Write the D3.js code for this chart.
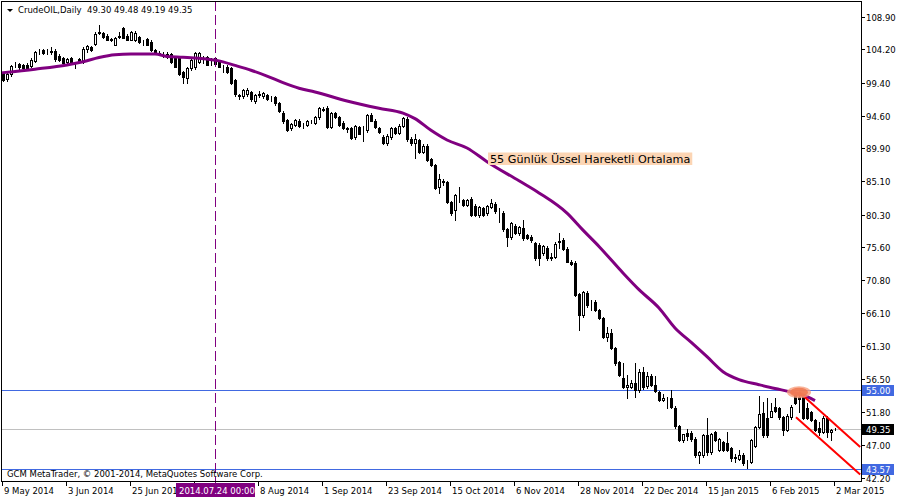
<!DOCTYPE html>
<html><head><meta charset="utf-8">
<script src="https://cdn.jsdelivr.net/npm/d3@7"></script>
<style>
body{margin:0;background:#fff}
svg{display:block}
text{font-family:"DejaVu Sans",sans-serif;font-size:8.5px;fill:#000;white-space:pre}
</style>
</head><body><svg id="c" width="900" height="500"></svg>
<script>
// ---- DATA ----
const open = [
100.8, 99.9, 100.6, 101.9, 102.1, 101.9, 102.0, 101.8, 102.6, 103.8,
104.1, 103.8, 103.9, 104.0, 103.3, 102.9, 102.4, 102.9, 102.3, 102.8,
102.4, 104.2, 104.5, 105.0, 106.6, 106.6, 106.2, 105.7, 104.9, 106.0,
107.3, 106.2, 105.6, 105.6, 106.0, 105.3, 105.7, 105.3, 104.1, 103.7,
103.6, 103.6, 103.5, 103.0, 102.9, 100.9, 100.1, 101.5, 101.6, 102.4,
103.0, 103.1, 102.6, 103.0, 102.4, 101.7, 101.7, 101.5, 99.8, 97.6,
97.4, 97.7, 98.0, 96.7, 97.6, 97.4, 97.6, 97.1, 97.3, 96.4,
95.0, 94.0, 92.8, 93.3, 93.9, 93.3, 93.3, 93.8, 93.6, 94.4,
95.6, 95.7, 93.0, 95.0, 94.4, 93.6, 92.8, 92.8, 91.5, 93.0,
92.2, 92.5, 94.7, 93.9, 92.8, 91.5, 90.6, 91.5, 92.8, 92.1,
93.2, 94.2, 91.3, 90.6, 91.1, 89.4, 90.3, 88.3, 87.5, 84.3,
85.1, 85.0, 82.1, 81.0, 82.6, 82.4, 81.7, 82.5, 81.6, 80.3,
81.2, 80.6, 81.4, 81.9, 80.9, 80.5, 78.2, 77.1, 78.7, 77.7,
78.4, 77.3, 77.0, 76.2, 75.9, 74.8, 75.5, 74.1, 74.2, 76.5,
76.6, 75.4, 73.5, 73.3, 68.8, 65.8, 69.0, 67.3, 67.7, 66.5,
65.3, 62.6, 63.2, 61.0, 59.0, 56.7, 55.4, 55.4, 55.9, 54.9,
57.5, 55.5, 56.9, 55.7, 54.6, 53.5, 53.7, 53.8, 52.4, 49.7,
47.7, 48.7, 48.7, 47.9, 45.5, 45.6, 48.4, 46.0, 48.8, 46.3,
47.4, 47.3, 46.5, 45.2, 45.0, 45.6, 44.4, 44.5, 46.9, 49.6,
51.6, 50.9, 51.0, 52.5, 52.3, 51.0, 49.2, 51.0, 54.2, 53.9,
54.2, 52.3, 51.7, 50.6, 49.4, 48.9, 50.9, 48.9, 49.30
];
const high = [
101.0, 100.9, 102.0, 102.4, 102.3, 102.1, 102.3, 102.9, 104.0, 104.2,
104.3, 104.3, 104.5, 104.2, 103.6, 103.1, 103.0, 103.1, 102.4, 103.0,
104.5, 104.9, 104.7, 106.8, 107.7, 106.8, 106.4, 105.9, 106.0, 106.7,
107.5, 106.4, 106.9, 106.9, 106.2, 105.6, 105.9, 105.5, 104.3, 104.0,
103.8, 103.8, 103.7, 103.2, 103.1, 101.1, 101.6, 102.9, 103.9, 103.9,
103.2, 103.3, 102.9, 103.1, 102.6, 102.0, 101.9, 101.7, 100.0, 97.8,
98.5, 98.6, 98.2, 97.8, 98.2, 98.0, 97.8, 97.4, 97.5, 96.6,
95.3, 94.2, 93.6, 94.2, 94.1, 93.6, 94.0, 94.0, 94.6, 95.9,
95.9, 96.0, 95.2, 95.2, 94.6, 93.8, 93.0, 93.0, 93.3, 93.2,
93.2, 94.9, 95.0, 94.1, 93.0, 91.8, 91.9, 93.0, 93.0, 93.4,
94.5, 94.5, 91.5, 92.0, 91.3, 90.5, 90.5, 88.5, 87.7, 86.2,
85.5, 85.2, 82.3, 83.3, 84.3, 82.6, 82.6, 82.8, 81.8, 81.5,
81.4, 81.7, 82.6, 82.2, 81.2, 80.8, 78.4, 79.3, 78.9, 78.7,
79.6, 77.5, 77.3, 76.4, 76.2, 75.9, 75.7, 74.8, 76.3, 77.6,
76.9, 75.6, 73.7, 73.6, 69.0, 69.3, 69.2, 68.0, 68.0, 66.7,
65.5, 64.0, 63.8, 61.2, 59.2, 58.8, 57.1, 56.4, 58.8, 58.0,
58.3, 57.6, 57.3, 57.0, 54.8, 54.3, 53.9, 54.9, 52.6, 49.9,
48.6, 49.3, 49.0, 48.1, 46.1, 48.6, 50.9, 48.7, 49.0, 48.0,
47.6, 48.9, 46.7, 45.7, 46.2, 45.8, 44.8, 47.9, 49.7, 54.0,
53.2, 53.8, 53.1, 53.8, 52.5, 51.2, 51.4, 52.7, 54.5, 54.6,
54.4, 53.1, 51.9, 50.8, 50.3, 51.1, 51.2, 49.3, 49.48
];
const low = [
99.6, 99.7, 100.4, 101.6, 101.3, 101.4, 101.3, 101.6, 102.4, 103.6,
103.5, 103.6, 103.6, 102.6, 102.6, 102.2, 102.2, 102.2, 101.5, 102.2,
102.3, 103.8, 104.0, 104.9, 106.4, 105.9, 105.5, 105.4, 104.8, 105.8,
105.8, 105.5, 105.5, 105.4, 105.2, 104.9, 104.8, 104.0, 103.6, 103.4,
103.1, 103.0, 102.2, 101.6, 100.5, 99.3, 99.4, 101.3, 101.4, 102.2,
102.2, 101.9, 101.9, 102.0, 101.6, 100.9, 100.8, 99.2, 97.5, 97.0,
97.2, 97.5, 96.8, 96.5, 97.3, 97.2, 96.9, 96.8, 96.2, 95.1,
93.6, 92.4, 92.6, 93.1, 93.0, 92.9, 93.1, 93.5, 93.4, 94.2,
95.3, 92.8, 92.8, 94.3, 93.1, 92.7, 92.3, 91.2, 91.3, 91.9,
90.9, 92.3, 93.8, 92.8, 92.1, 90.5, 90.4, 91.3, 92.0, 91.9,
93.0, 91.0, 90.4, 88.5, 89.2, 89.2, 88.0, 87.3, 84.0, 83.5,
84.6, 82.0, 80.3, 79.6, 82.1, 81.5, 81.5, 80.1, 80.1, 80.0,
80.1, 80.3, 81.2, 80.6, 79.2, 78.0, 75.8, 76.8, 77.5, 77.4,
76.7, 76.8, 76.4, 73.8, 73.0, 74.5, 73.8, 73.7, 74.0, 75.5,
75.2, 73.4, 73.0, 68.5, 63.6, 65.5, 67.0, 66.5, 66.3, 65.2,
62.4, 62.0, 60.8, 58.6, 56.9, 55.2, 53.8, 55.2, 53.9, 54.6,
55.1, 55.2, 55.5, 54.6, 53.3, 53.3, 52.4, 52.3, 49.4, 47.5,
47.4, 47.7, 47.6, 45.3, 44.4, 45.3, 45.6, 45.7, 47.5, 46.1,
46.1, 46.1, 44.7, 44.5, 44.8, 44.1, 43.7, 44.3, 46.7, 49.4,
48.2, 48.2, 51.0, 51.8, 50.8, 48.4, 49.0, 50.8, 52.9, 51.8,
50.7, 50.7, 50.4, 49.0, 48.4, 48.7, 48.1, 47.7, 49.19
];
const close = [
99.8, 100.6, 101.8, 102.0, 101.6, 101.5, 101.5, 102.7, 103.8, 103.9,
103.7, 103.9, 104.0, 102.8, 102.7, 102.3, 102.8, 102.4, 102.2, 102.4,
104.3, 104.7, 104.1, 106.5, 106.7, 106.0, 105.6, 105.6, 105.8, 106.1,
105.9, 105.6, 106.7, 106.6, 105.3, 105.3, 104.9, 104.1, 103.7, 103.6,
103.5, 103.1, 102.4, 101.7, 100.7, 100.2, 101.5, 102.7, 103.7, 103.7,
103.0, 102.0, 102.5, 102.1, 101.7, 101.6, 100.9, 99.4, 97.7, 97.5,
98.3, 98.4, 97.0, 97.6, 97.7, 97.9, 97.0, 97.1, 96.4, 95.3,
93.8, 92.6, 93.4, 94.0, 93.1, 93.3, 93.9, 93.8, 94.4, 95.7,
95.5, 93.0, 95.0, 94.4, 93.3, 92.8, 92.7, 91.4, 93.1, 92.0,
92.3, 94.7, 93.9, 93.0, 92.2, 90.7, 91.7, 92.8, 92.1, 93.2,
94.3, 91.2, 90.6, 91.3, 89.4, 90.3, 88.2, 87.5, 84.2, 85.5,
85.0, 82.2, 80.5, 83.1, 82.5, 81.7, 82.4, 80.3, 80.3, 81.4,
80.3, 81.5, 82.0, 80.8, 80.8, 78.2, 77.1, 79.1, 77.6, 78.5,
76.9, 76.9, 76.6, 74.0, 74.0, 75.7, 74.0, 74.2, 76.1, 76.4,
75.4, 73.5, 73.2, 68.7, 65.8, 69.1, 67.2, 67.2, 66.5, 65.4,
62.6, 63.2, 61.0, 58.8, 57.1, 55.4, 55.7, 56.0, 55.0, 57.6,
55.3, 57.0, 55.7, 54.8, 53.5, 53.8, 53.6, 52.5, 49.7, 47.7,
48.5, 48.3, 47.9, 45.5, 46.0, 48.4, 46.0, 48.5, 47.7, 47.8,
46.3, 46.3, 45.1, 45.1, 45.6, 44.3, 44.3, 47.7, 49.6, 51.5,
48.4, 48.4, 51.9, 51.9, 51.0, 49.2, 51.2, 52.5, 53.1, 53.6,
50.9, 50.9, 50.6, 49.2, 48.9, 50.9, 48.9, 49.2, 49.35
];
// 55-day EMA, read at selected bars
const maBar   = [0, 8, 16, 20, 24, 28, 32, 38, 41, 45, 49, 54, 58, 62, 66, 70, 74, 78, 86, 94, 100, 103, 107, 111, 116, 121, 129, 134, 141, 145, 149, 155, 159, 164, 168, 172, 176, 180, 184, 189, 193, 197, 201, 203];
const maValue = [100.85, 101.35, 101.96, 102.43, 103.05, 103.45, 103.55, 103.55, 103.2, 103.07, 102.92, 102.55, 101.9, 101.2, 100.36, 99.4, 98.6, 98.05, 96.75, 95.7, 95.0, 94.2, 92.5, 91.1, 89.95, 87.97, 85.2, 83.45, 80.52, 78.06, 75.7, 71.86, 69.45, 66.8, 63.9, 61.85, 59.75, 57.58, 56.42, 55.7, 55.15, 54.65, 53.97, 53.4];
const priceTicks = [108.90, 104.20, 99.40, 94.60, 89.90, 85.10, 80.30, 75.60, 70.80, 66.10, 61.30, 56.50, 51.80, 47.00, 42.20];
const dateTickBars = [0, 16, 32, 48, 64, 80, 96, 112, 128, 144, 160, 176, 192, 208];
const dateTickLabels = ["9 May 2014","3 Jun 2014","25 Jun 2014","17 Jul 2014","8 Aug 2014","1 Sep 2014","23 Sep 2014","15 Oct 2014","6 Nov 2014","28 Nov 2014","22 Dec 2014","15 Jan 2015","6 Feb 2015","2 Mar 2015"];
const levelLines = [55.00, 43.57];
const bidPrice = 49.35;
const crosshairBar = 53, crosshairLabel = "2014.07.24 00:00";
// trend channel (bar, price) endpoints
const channelUpper = [[199, 54.65], [214.3, 46.69]];
const channelLower = [[198.25, 50.99], [214.3, 42.70]];
const markerPoint = [199, 54.6];
const title = "CrudeOIL,Daily  49.30 49.48 49.19 49.35";
const maLabel = "55 Günlük Üssel Hareketli Ortalama";
const copyright = "GCM MetaTrader, © 2001-2014, MetaQuotes Software Corp.";

// ---- DRAWING ----
const svg = d3.select("#c");
const P = {left:1, right:861, top:1, bottom:481};
const x = d3.scaleLinear().domain([0, 208]).range([3, 835]);
const y = d3.scaleLinear().domain([42.2, 108.9]).range([478, 17]);

svg.append("rect").attr("width",900).attr("height",500).attr("fill","#fff");
const defs = svg.append("defs");
defs.append("clipPath").attr("id","clip").append("rect")
  .attr("x",P.left).attr("y",P.top).attr("width",P.right-P.left).attr("height",P.bottom-P.top);
defs.append("clipPath").attr("id","dclip").append("rect")
  .attr("x",0).attr("y",482).attr("width",176).attr("height",18);
const g = svg.append("g").attr("clip-path","url(#clip)");

// bid line + horizontal levels
g.append("line").attr("x1",0).attr("x2",P.right).attr("y1",Math.round(y(bidPrice))+0.5).attr("y2",Math.round(y(bidPrice))+0.5)
  .attr("stroke","#c0c0c0").attr("stroke-width",1);
levelLines.forEach(v=>{
  const yy = Math.round(y(v))+0.5;
  g.append("line").attr("x1",0).attr("x2",P.right).attr("y1",yy).attr("y2",yy)
   .attr("stroke","#4169e1").attr("stroke-width",1);
});

// candles
const n = Math.min(open.length, high.length, low.length, close.length);
const idx = d3.range(n);
const cg = g.append("g").attr("shape-rendering","crispEdges");
cg.selectAll("line.w").data(idx).join("line").attr("class","w")
  .attr("x1",i=>Math.round(x(i))+0.5).attr("x2",i=>Math.round(x(i))+0.5)
  .attr("y1",i=>Math.round(y(high[i]))).attr("y2",i=>Math.round(y(low[i]))+1)
  .attr("stroke","#000").attr("stroke-width",1);
cg.selectAll("rect.b").data(idx).join("rect").attr("class","b")
  .attr("x",i=>Math.round(x(i))-0.5)
  .attr("width",2)
  .attr("y",i=>Math.round(y(Math.max(open[i],close[i])))+0.5)
  .attr("height",i=>Math.max(0, Math.round(y(Math.min(open[i],close[i])))-Math.round(y(Math.max(open[i],close[i])))))
  .attr("fill",i=>close[i]>=open[i]?"#fff":"#000")
  .attr("stroke","#000").attr("stroke-width",1);

// moving average
const maPts = maBar.map((b,k)=>[b, maValue[k]]);
g.append("path").datum(maPts)
  .attr("d", d3.line().x(d=>x(d[0])).y(d=>y(d[1])).curve(d3.curveMonotoneX))
  .attr("fill","none").attr("stroke","#800080").attr("stroke-width",3);
g.append("line").attr("x1",0).attr("x2",x(maBar[0])).attr("y1",y(maValue[0])+0.3).attr("y2",y(maValue[0]))
  .attr("stroke","#800080").attr("stroke-width",3);

// trend channel
[channelUpper, channelLower].forEach(seg=>{
  g.append("line").attr("x1",x(seg[0][0])).attr("y1",y(seg[0][1]))
   .attr("x2",x(seg[1][0])).attr("y2",y(seg[1][1]))
   .attr("stroke","#ff0000").attr("stroke-width",2);
});
// marker blob
g.append("ellipse").attr("cx",x(markerPoint[0])).attr("cy",y(markerPoint[1]))
  .attr("rx",12).attr("ry",6).attr("fill","#f8a080").attr("opacity",0.8);
g.append("ellipse").attr("cx",x(markerPoint[0])).attr("cy",y(markerPoint[1]))
  .attr("rx",9).attr("ry",4.5).attr("fill","#f07850").attr("opacity",0.85);

// MA label
const lbl = svg.append("g");
const lt = lbl.append("text").attr("x",490).attr("y",162.5).style("font-size","11.2px").text(maLabel);
const bb = lt.node().getBBox();
lbl.insert("rect","text").attr("x",bb.x-2).attr("y",152.5).attr("width",bb.width+4).attr("height",12.5).attr("fill","#fcd5b4");

// crosshair
const chx = Math.round(x(crosshairBar))+0.5;
svg.append("line").attr("x1",chx).attr("x2",chx)
  .attr("y1",P.top).attr("y2",P.bottom+2).attr("stroke","#800080").attr("stroke-width",1).attr("stroke-dasharray","10,4");

// frame
svg.append("rect").attr("x",P.left+0.5).attr("y",P.top+0.5).attr("width",P.right-P.left-0.5).attr("height",P.bottom-P.top)
  .attr("fill","none").attr("stroke","#000").attr("stroke-width",1).attr("shape-rendering","crispEdges");

// price axis
const ax = svg.append("g").attr("shape-rendering","crispEdges");
priceTicks.forEach(v=>{
  const yy = Math.round(y(v))+0.5;
  ax.append("line").attr("x1",P.right).attr("x2",P.right+4).attr("y1",yy).attr("y2",yy).attr("stroke","#000");
  svg.append("text").attr("x",866).attr("y",yy+3).text(v.toFixed(2));
});
function priceBox(v, bg){
  const yy = Math.round(y(v));
  svg.append("rect").attr("x",862).attr("y",yy-5).attr("width",32).attr("height",11).attr("fill",bg);
  svg.append("text").attr("x",866).attr("y",yy+3.5).style("fill","#fff").text(v.toFixed(2));
}
levelLines.forEach(v=>priceBox(v,"#4169e1"));
priceBox(bidPrice,"#000");

// time axis
const boxX0 = 176, boxX1 = 255;
dateTickBars.forEach((b,k)=>{
  const xx = Math.round(x(b))-0.5;
  ax.append("line").attr("x1",xx).attr("x2",xx).attr("y1",P.bottom).attr("y2",P.bottom+5).attr("stroke","#000");
  const t = svg.append("text").attr("x",xx+1.5).attr("y",494).text(dateTickLabels[k]);
  const w = t.node().getComputedTextLength();
  if (xx+1.5 >= boxX0 && xx+1.5 < boxX1) t.remove();                               // hidden by crosshair label
  else if (xx+1.5 < boxX0 && xx+1.5+w > boxX0) t.attr("clip-path","url(#dclip)"); // partly hidden
});
svg.append("rect").attr("x",boxX0).attr("y",483).attr("width",boxX1-boxX0).attr("height",14).attr("fill","#800080");
svg.append("text").attr("x",179).attr("y",494).style("fill","#fff").text(crosshairLabel);

// title & copyright
svg.append("path").attr("d","M7,9 L13,9 L10,12 Z").attr("fill","#000");
svg.append("text").attr("x",18).attr("y",13).text(title);
svg.append("text").attr("x",7).attr("y",477).text(copyright);
</script>
</body></html>
